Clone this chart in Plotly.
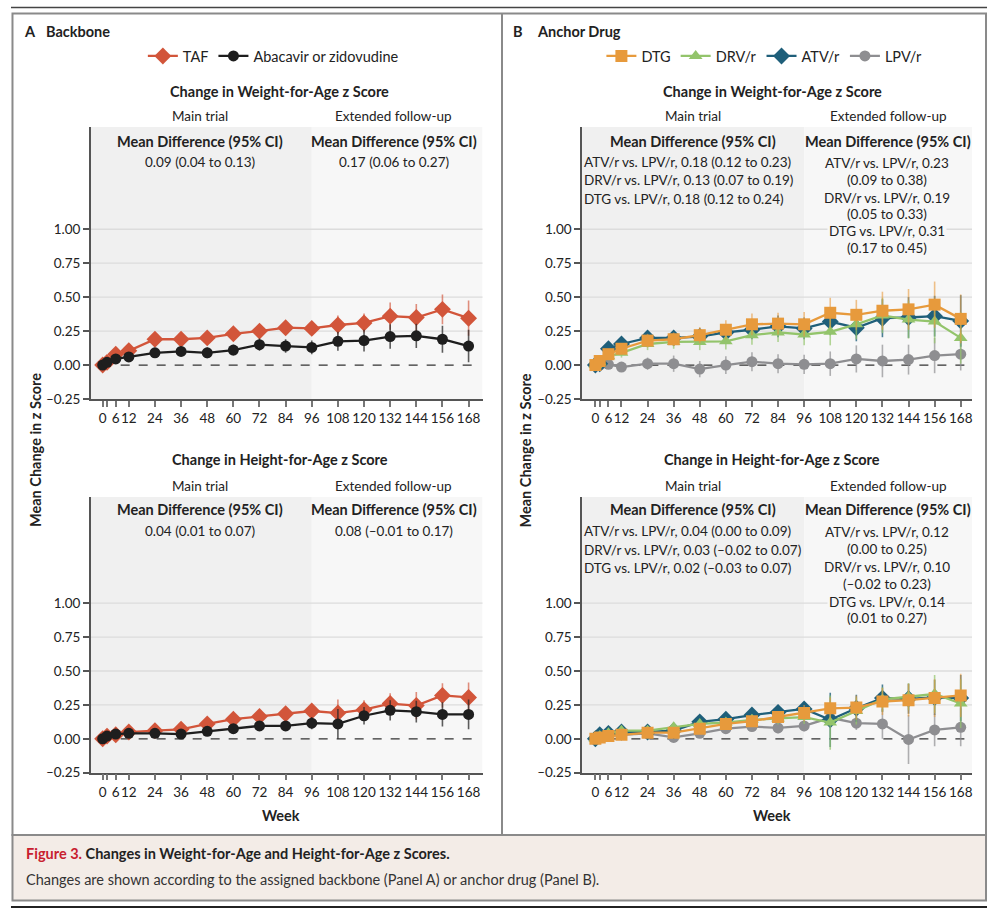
import plotly.graph_objects as go

REF_W, REF_H = 998, 914
W, H = 998, 922  # page height is rendered slightly taller than the photographed frame
FONT = "Lato"
TXT = "#222222"

weeks = [0, 2, 6, 12, 24, 36, 48, 60, 72, 84, 96, 108, 120, 132, 144, 156, 168]
week_ticks = [0, 2, 6, 12, 24, 36, 48, 60, 72, 84, 96, 108, 120, 132, 144, 156, 168]
week_labels = ["0", "", "6", "12", "24", "36", "48", "60", "72", "84", "96", "108", "120", "132", "144", "156", "168"]
y_ticks = [-0.25, 0, 0.25, 0.5, 0.75, 1.0]
y_labels = ["\u20130.25", "0.00", "0.25", "0.50", "0.75", "1.00"]

# Panel A, weight-for-age
taf_w = [0, 0.02, 0.08, 0.105, 0.19, 0.19, 0.20, 0.23, 0.25, 0.275, 0.27, 0.295, 0.31, 0.36, 0.35, 0.41, 0.345]
taf_w_err = [0.01, 0.02, 0.025, 0.03, 0.03, 0.03, 0.035, 0.035, 0.04, 0.04, 0.04, 0.07, 0.07, 0.10, 0.10, 0.11, 0.13]
abc_w = [0, 0.02, 0.045, 0.06, 0.09, 0.10, 0.09, 0.11, 0.15, 0.14, 0.13, 0.175, 0.18, 0.21, 0.215, 0.19, 0.14]
abc_w_err = [0.01, 0.02, 0.02, 0.025, 0.03, 0.035, 0.04, 0.04, 0.045, 0.05, 0.05, 0.07, 0.08, 0.09, 0.09, 0.10, 0.12]
# Panel A, height-for-age
taf_h = [0, 0.02, 0.03, 0.05, 0.06, 0.07, 0.11, 0.145, 0.165, 0.185, 0.205, 0.19, 0.215, 0.26, 0.245, 0.32, 0.305]
taf_h_err = [0.01, 0.015, 0.02, 0.02, 0.02, 0.025, 0.03, 0.03, 0.03, 0.035, 0.04, 0.10, 0.07, 0.075, 0.10, 0.09, 0.11]
abc_h = [0, 0.02, 0.035, 0.04, 0.04, 0.035, 0.055, 0.075, 0.095, 0.095, 0.115, 0.11, 0.17, 0.21, 0.20, 0.18, 0.18]
abc_h_err = [0.01, 0.015, 0.02, 0.02, 0.02, 0.025, 0.025, 0.03, 0.03, 0.035, 0.045, 0.11, 0.065, 0.075, 0.08, 0.09, 0.11]

# Panel B, weight-for-age
dtg_w = [0, 0.03, 0.08, 0.12, 0.18, 0.19, 0.22, 0.26, 0.30, 0.305, 0.30, 0.385, 0.37, 0.40, 0.41, 0.445, 0.34]
dtg_w_err = [0.01, 0.02, 0.03, 0.04, 0.05, 0.05, 0.06, 0.07, 0.08, 0.08, 0.09, 0.11, 0.11, 0.14, 0.15, 0.17, 0.18]
atv_w = [0, 0.01, 0.12, 0.155, 0.20, 0.20, 0.21, 0.24, 0.26, 0.285, 0.27, 0.32, 0.275, 0.345, 0.35, 0.36, 0.325]
atv_w_err = [0.01, 0.02, 0.03, 0.04, 0.05, 0.05, 0.06, 0.06, 0.07, 0.08, 0.08, 0.10, 0.10, 0.14, 0.15, 0.15, 0.19]
drv_w = [0, 0.02, 0.065, 0.09, 0.155, 0.17, 0.17, 0.175, 0.22, 0.24, 0.225, 0.245, 0.30, 0.365, 0.335, 0.32, 0.20]
drv_w_err = [0.01, 0.02, 0.03, 0.035, 0.045, 0.05, 0.06, 0.06, 0.07, 0.07, 0.08, 0.10, 0.11, 0.13, 0.14, 0.16, 0.19]
lpv_w = [0, 0.0, 0.005, -0.015, 0.01, 0.01, -0.03, 0.0, 0.025, 0.01, 0.005, 0.01, 0.045, 0.03, 0.04, 0.07, 0.08]
lpv_w_err = [0.01, 0.02, 0.025, 0.03, 0.045, 0.06, 0.06, 0.065, 0.07, 0.07, 0.07, 0.09, 0.10, 0.12, 0.11, 0.13, 0.12]
# Panel B, height-for-age
dtg_h = [0, 0.01, 0.02, 0.03, 0.045, 0.045, 0.075, 0.11, 0.13, 0.16, 0.19, 0.225, 0.23, 0.275, 0.285, 0.30, 0.32]
dtg_h_err = [0.005, 0.01, 0.015, 0.02, 0.02, 0.025, 0.03, 0.03, 0.035, 0.04, 0.06, 0.08, 0.09, 0.10, 0.12, 0.14, 0.16]
atv_h = [0, 0.03, 0.04, 0.05, 0.05, 0.06, 0.125, 0.145, 0.175, 0.195, 0.22, 0.14, 0.225, 0.30, 0.295, 0.305, 0.30]
atv_h_err = [0.01, 0.02, 0.02, 0.02, 0.025, 0.03, 0.03, 0.035, 0.04, 0.045, 0.05, 0.20, 0.10, 0.10, 0.11, 0.13, 0.17]
drv_h = [0, 0.02, 0.04, 0.06, 0.06, 0.085, 0.11, 0.12, 0.14, 0.15, 0.16, 0.12, 0.205, 0.29, 0.31, 0.33, 0.26]
drv_h_err = [0.01, 0.015, 0.02, 0.02, 0.025, 0.03, 0.03, 0.035, 0.04, 0.045, 0.05, 0.20, 0.10, 0.09, 0.10, 0.14, 0.18]
lpv_h = [0, 0.01, 0.02, 0.03, 0.04, 0.01, 0.04, 0.075, 0.09, 0.08, 0.095, 0.155, 0.115, 0.11, -0.005, 0.065, 0.085]
lpv_h_err = [0.005, 0.01, 0.015, 0.02, 0.02, 0.02, 0.03, 0.03, 0.035, 0.04, 0.04, 0.06, 0.05, 0.11, 0.18, 0.12, 0.14]

C_TAF, C_TAF_E = "#d2553a", "rgba(210,85,58,0.65)"
C_ABC, C_ABC_E = "#1e1e1e", "rgba(40,40,40,0.75)"
C_DTG, C_DTG_E = "#e79a3c", "rgba(231,154,60,0.6)"
C_DRV, C_DRV_E = "#93c46b", "rgba(147,196,107,0.7)"
C_ATV, C_ATV_E = "#1f5f7a", "rgba(31,95,122,0.8)"
C_LPV, C_LPV_E = "#8e8e91", "rgba(142,142,145,0.7)"


def py(p):
    return 1 - p / REF_H


def px(p):
    return p / REF_W


fig = go.Figure()


def add_series(xa, ya, y, err, name, color, ecolor, symbol, size, legend, show):
    fig.add_trace(go.Scatter(
        x=weeks, y=y, name=name, mode="lines+markers", xaxis=xa, yaxis=ya,
        line=dict(color=color, width=2.3),
        marker=dict(symbol=symbol, size=size, color=color),
        error_y=dict(type="data", array=err, color=ecolor, thickness=1.6, width=0),
        legend=legend, showlegend=show))


# Panel A
add_series("x", "y", taf_w, taf_w_err, "TAF", C_TAF, C_TAF_E, "diamond", 13, "legend", True)
add_series("x", "y", abc_w, abc_w_err, "Abacavir or zidovudine", C_ABC, C_ABC_E, "circle", 11, "legend", True)
add_series("x3", "y3", taf_h, taf_h_err, "TAF", C_TAF, C_TAF_E, "diamond", 13, "legend", False)
add_series("x3", "y3", abc_h, abc_h_err, "Abacavir or zidovudine", C_ABC, C_ABC_E, "circle", 11, "legend", False)
# Panel B
for (xa, ya, d) in [("x2", "y2", (lpv_w, lpv_w_err, atv_w, atv_w_err, drv_w, drv_w_err, dtg_w, dtg_w_err)),
                    ("x4", "y4", (lpv_h, lpv_h_err, atv_h, atv_h_err, drv_h, drv_h_err, dtg_h, dtg_h_err))]:
    show = xa == "x2"
    add_series(xa, ya, d[0], d[1], "LPV/r", C_LPV, C_LPV_E, "circle", 11, "legend2", show)
    add_series(xa, ya, d[2], d[3], "ATV/r", C_ATV, C_ATV_E, "diamond", 13, "legend2", show)
    add_series(xa, ya, d[4], d[5], "DRV/r", C_DRV, C_DRV_E, "triangle-up", 12, "legend2", show)
    add_series(xa, ya, d[6], d[7], "DTG", C_DTG, C_DTG_E, "square", 12, "legend2", show)

# axes geometry (pixels in the reference picture)
A_X = (91, 483, -5.4, 174.4)
B_X = (582.7, 973, -6.1, 173.2)
TOP_Y = (127, 399, 1.753)
BOT_Y = (497, 772.7, 1.783)

axis_common_x = dict(tickvals=week_ticks, ticktext=week_labels, ticks="outside", ticklen=6,
                     tickwidth=1.5, tickcolor="#777777", showline=True, linecolor="#555555",
                     linewidth=1.5, showgrid=False, zeroline=False, tickangle=0,
                     tickfont=dict(family=FONT, size=13.5, color=TXT), fixedrange=True)
axis_common_y = dict(tickvals=y_ticks, ticktext=y_labels, ticks="outside", ticklen=6,
                     tickwidth=1.5, tickcolor="#555555", showline=True, linecolor="#555555",
                     linewidth=1.5, showgrid=False, zeroline=False,
                     tickfont=dict(family=FONT, size=13.5, color=TXT), fixedrange=True)

layout_axes = {}
shapes = []
for i, (xg, yg) in enumerate([(A_X, TOP_Y), (B_X, TOP_Y), (A_X, BOT_Y), (B_X, BOT_Y)]):
    n = "" if i == 0 else str(i + 1)
    xname, yname = "xaxis" + n, "yaxis" + n
    xr, yr = "x" + n, "y" + n
    layout_axes[xname] = dict(axis_common_x, domain=[px(xg[0]), px(xg[1])], range=[xg[2], xg[3]], anchor=yr)
    layout_axes[yname] = dict(axis_common_y, domain=[py(yg[1]), py(yg[0])], range=[-0.25, yg[2]], anchor=xr)
    # shaded backgrounds
    shapes.append(dict(type="rect", xref=xr, yref=yr + " domain", x0=xg[2], x1=96, y0=0, y1=1,
                       line_width=0, fillcolor="#f0f0f0", layer="below"))
    shapes.append(dict(type="rect", xref=xr, yref=yr + " domain", x0=96, x1=xg[3], y0=0, y1=1,
                       line_width=0, fillcolor="#f7f7f7", layer="below"))
    for g in [0.25, 0.5, 0.75, 1.0]:
        shapes.append(dict(type="line", xref=xr + " domain", yref=yr, x0=0, x1=1, y0=g, y1=g,
                           line=dict(color="#dcdcdc", width=1.3), layer="below"))
    shapes.append(dict(type="line", xref=xr, yref=yr, x0=0, x1=172, y0=0, y1=0,
                       line=dict(color="#333333", width=1.2, dash="dash"), layer="below"))

# frame
FR = "#8a8a8a"
shapes += [
    dict(type="line", xref="paper", yref="paper", x0=px(11), x1=px(988), y0=py(7.5), y1=py(7.5),
         line=dict(color="#444444", width=1.5)),
    dict(type="rect", xref="paper", yref="paper", x0=px(12.5), x1=px(987), y0=py(835), y1=py(13.5),
         line=dict(color=FR, width=2), fillcolor="rgba(0,0,0,0)"),
    dict(type="line", xref="paper", yref="paper", x0=px(502.5), x1=px(502.5), y0=py(835), y1=py(13.5),
         line=dict(color=FR, width=2)),
    dict(type="rect", xref="paper", yref="paper", x0=px(12.5), x1=px(987), y0=py(900.5), y1=py(835),
         line=dict(color=FR, width=2), fillcolor="#f3ece7"),
    dict(type="line", xref="paper", yref="paper", x0=px(11), x1=px(988), y0=py(907), y1=py(907),
         line=dict(color="#222222", width=2)),
]

ann = []
BODY = 13.5


def txt(x, y, s, size=BODY, bold=False, align="center", xanchor="center", color=TXT, bg=None):
    d = dict(x=px(x), y=py(y), xref="paper", yref="paper", text=("<b>%s</b>" % s) if bold else s,
             showarrow=False, xanchor=xanchor, yanchor="middle", align=align,
             font=dict(family=FONT, size=size, color=color))
    if bg:
        d["bgcolor"] = bg
    ann.append(d)


# panel labels
txt(22, 31, "A", 14.5, True, xanchor="left")
txt(44, 31, "Backbone", 14.5, True, xanchor="left")
txt(512, 31, "B", 14.5, True, xanchor="left")
txt(536, 31, "Anchor Drug", 14.5, True, xanchor="left")

for (ytitle, ymain, ymd, yval) in [(91, 116, 141, 162), (460, 486, 509, 531)]:
    kind = "Weight-for-Age" if ytitle < 200 else "Height-for-Age"
    txt(280, ytitle, "Change in %s z Score" % kind, 14.5, True)
    txt(773, ytitle, "Change in %s z Score" % kind, 14.5, True)
    for xc in (200, 694):
        txt(xc, ymain, "Main trial")
        txt(xc, ymd, "Mean Difference (95% CI)", 14.5, True)
    for xc in (394, 889):
        txt(xc, ymain, "Extended follow-up")
        txt(xc, ymd, "Mean Difference (95% CI)", 14.5, True)

txt(200, 162, "0.09 (0.04 to 0.13)")
txt(394, 162, "0.17 (0.06 to 0.27)")
txt(200, 531, "0.04 (0.01 to 0.07)")
txt(394, 531, "0.08 (\u20130.01 to 0.17)")

# Panel B main-trial text
for s, y in zip(["ATV/r vs. LPV/r, 0.18 (0.12 to 0.23)", "DRV/r vs. LPV/r, 0.13 (0.07 to 0.19)",
                 "DTG vs. LPV/r, 0.18 (0.12 to 0.24)"], [162, 180, 199]):
    txt(583, y, s, xanchor="left")
for s, y in zip(["ATV/r vs. LPV/r, 0.04 (0.00 to 0.09)", "DRV/r vs. LPV/r, 0.03 (\u20130.02 to 0.07)",
                 "DTG vs. LPV/r, 0.02 (\u20130.03 to 0.07)"], [531, 550, 568]):
    txt(583, y, s, xanchor="left")
# Panel B extended text
for s, y in zip(["ATV/r vs. LPV/r, 0.23", "(0.09 to 0.38)", "DRV/r vs. LPV/r, 0.19", "(0.05 to 0.33)",
                 "DTG vs. LPV/r, 0.31", "(0.17 to 0.45)"], [163, 180, 198, 214, 231, 248]):
    txt(888, y, s, bg="#f7f7f7")
for s, y in zip(["ATV/r vs. LPV/r, 0.12", "(0.00 to 0.25)", "DRV/r vs. LPV/r, 0.10", "(\u20130.02 to 0.23)",
                 "DTG vs. LPV/r, 0.14", "(0.01 to 0.27)"], [532, 549, 567, 584, 602, 618]):
    txt(888, y, s, bg="#f7f7f7")

# axis titles
for x in (35, 526):
    ann.append(dict(x=px(x), y=py(450), xref="paper", yref="paper", text="<b>Mean Change in z Score</b>",
                    showarrow=False, textangle=-90, xanchor="center", yanchor="middle",
                    font=dict(family=FONT, size=14.5, color=TXT)))
txt(281, 815, "Week", 14.5, True)
txt(773, 815, "Week", 14.5, True)

# caption
txt(24, 853, "<b><span style='color:#c8202f'>Figure 3.</span> Changes in Weight-for-Age and Height-for-Age z Scores.</b>",
    14.5, xanchor="left")
txt(24, 879, "Changes are shown according to the assigned backbone (Panel A) or anchor drug (Panel B).", 14.5,
    xanchor="left", color="#333333")

fig.update_layout(
    width=W, height=H, margin=dict(l=0, r=0, t=0, b=0),
    paper_bgcolor="white", plot_bgcolor="rgba(0,0,0,0)",
    showlegend=True,
    legend=dict(orientation="h", x=px(143), y=py(56), xanchor="left", yanchor="middle",
                font=dict(family=FONT, size=14.5, color=TXT), bgcolor="rgba(0,0,0,0)", itemwidth=30),
    legend2=dict(orientation="h", x=px(602), y=py(56), xanchor="left", yanchor="middle",
                 traceorder="reversed",
                 font=dict(family=FONT, size=14.5, color=TXT), bgcolor="rgba(0,0,0,0)", itemwidth=30),
    shapes=shapes, annotations=ann,
    **layout_axes,
)

fig.write_html("out.html", config={"displayModeBar": False},
               post_script="document.body.style.margin='0';document.body.style.overflow='hidden';")
